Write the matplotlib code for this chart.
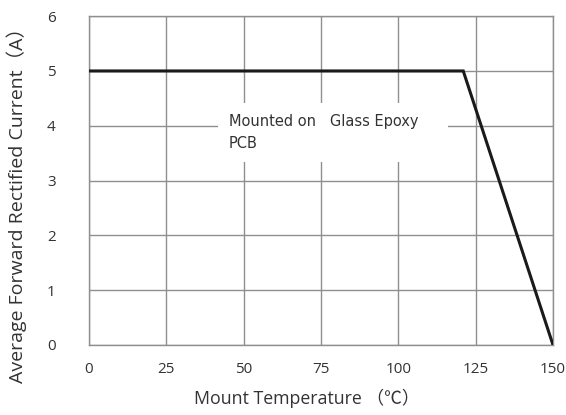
import numpy as np
import matplotlib.pyplot as plt

# derating curve
temps = [0, 121, 150]
current = [5, 5, 0]
xticks = [0, 25, 50, 75, 100, 125, 150]
yticks = [0, 1, 2, 3, 4, 5, 6]

plt.rcParams['font.family'] = ['Open Sans', 'Noto Sans CJK SC', 'DejaVu Sans']

fig = plt.figure(figsize=(5.66, 4.15), dpi=100)
ax = fig.add_axes([0.157, 0.169, 0.82, 0.792])

ax.plot(temps, current, color='#1a1a1a', lw=2.2, solid_joinstyle='miter', zorder=4)

ax.set_xlim(0, 150)
ax.set_ylim(0, 6)
ax.set_xticks(xticks)
ax.set_yticks(yticks)
ax.grid(True, color='#8f8f8f', lw=1.0)
for s in ax.spines.values():
    s.set_color('#8f8f8f')
    s.set_linewidth(1.0)
ax.tick_params(length=0, colors='#333333', labelsize=11)
ax.tick_params(axis='x', pad=12)
ax.tick_params(axis='y', pad=24)

ax.text(45.3, 3.88, 'Mounted on   Glass Epoxy    \nPCB', fontsize=10.5, color='#333333',
        family='DejaVu Sans', va='center', ha='left', linespacing=1.55, zorder=3,
        bbox=dict(facecolor='white', edgecolor='none', pad=8))

ax.set_xlabel('Mount Temperature （℃）', fontsize=12.8, color='#333333')
ax.set_ylabel('Average Forward Rectified Current（A）', fontsize=14, color='#333333')
ax.xaxis.set_label_coords(0.47, -0.134)
ax.yaxis.set_label_coords(-0.134, 0.44)

fig.savefig('out.png', dpi=100)
